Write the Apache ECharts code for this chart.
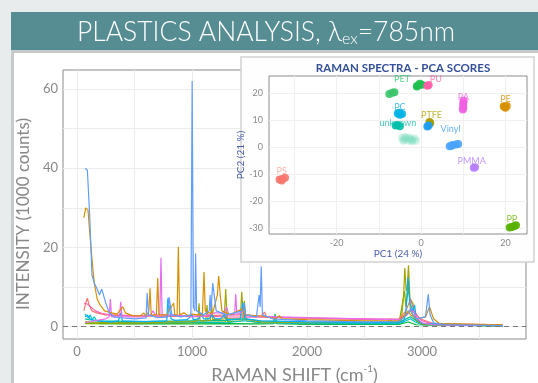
<!DOCTYPE html>
<html>
<head>
<meta charset="utf-8">
<script src="https://cdn.jsdelivr.net/npm/echarts@6.0.0/dist/echarts.min.js"></script>
<style>
  html, body { margin: 0; padding: 0; background: #e8ecec; }
  #chart { width: 538px; height: 383px; }
</style>
</head>
<body>
<div id="chart"></div>
<script>
// raman spectra, [shift cm-1, intensity in 1000 counts]
const specBlue = [[70,40],[90,39.5],[110,28],[130,13],[150,11],[175,9.5],[195,8],[215,9.5],[230,10],[250,6],[280,3.5],[320,2.5],[400,2.2],[500,2],[600,2.2],[610,8.5],[622,3],[700,2.3],[790,2.5],[800,7.5],[815,7.4],[825,3],[900,2.5],[990,3],[1001,62],[1012,5],[1025,4],[1031,18.5],[1040,4],[1100,3],[1150,4],[1157,8],[1165,4],[1180,11],[1195,11],[1210,4],[1300,3],[1440,4],[1452,6],[1465,3],[1560,2.5],[1583,8],[1592,5],[1602,15.2],[1612,3],[1700,2],[2000,1.5],[2500,1.2],[2800,1.3],[2850,2.5],[2880,3.5],[2904,4.5],[2920,3],[2950,2],[3030,2.5],[3054,8.2],[3070,3],[3100,1],[3200,0.5],[3700,0.3]];
const specGold = [[60,27.5],[75,30],[95,29.5],[110,24],[130,17],[150,11],[175,7],[200,5.5],[240,4],[300,3.5],[350,3.2],[380,4.5],[400,5],[420,3.5],[480,2.8],[550,2.7],[580,3.5],[600,2.6],[625,4],[635,9.7],[645,3],[690,3],[702,12.3],[712,3],[780,3],[840,6],[850,3],[870,3],[881,20.2],[892,3],[930,3.5],[970,2.7],[1000,3.2],[1050,3],[1090,3],[1104,13.8],[1115,4],[1150,3.5],[1180,3.5],[1220,8],[1232,12.8],[1245,8],[1260,4],[1300,3.5],[1330,3],[1440,4.5],[1460,3],[1600,2.7],[1650,2.5],[1730,2],[1760,2.8],[1780,2],[2000,1.8],[2500,1.5],[2800,1.5],[2850,3],[2880,4],[2900,3],[2950,2],[3030,2.5],[3065,5],[3080,4.5],[3100,2],[3150,0.8],[3700,0.5]];
const specMagenta = [[70,1],[150,1.5],[250,2],[280,2.5],[290,7],[300,2.5],[370,2.5],[380,6.3],[390,2.5],[450,2.5],[600,2.5],[640,3],[660,4],[680,3],[720,3],[730,17.4],[740,3],[850,3],[1000,2.5],[1100,2.7],[1200,3.5],[1280,3.5],[1300,5],[1320,3],[1370,3],[1380,8.2],[1390,3],[1450,4],[1470,2.8],[1600,2.6],[2000,2.3],[2500,2],[2800,1.8],[2870,3],[2900,4.5],[2930,3.5],[2960,2],[3000,1],[3100,0.5],[3700,0.3]];
const specSalmon = [[60,4],[75,6],[90,7.2],[105,5.5],[130,4],[170,3.5],[250,3],[400,2.8],[600,2.7],[800,2.6],[1000,2.6],[1300,3],[1450,3],[1600,2.6],[1630,3.7],[1650,2.4],[1800,2.3],[2200,2],[2600,1.8],[2800,2],[2860,4],[2900,7],[2930,4],[2980,2],[3100,0.8],[3700,0.5]];
const specPink = [[60,6],[90,5.7],[120,5],[160,4],[220,3.3],[300,3],[500,2.8],[700,2.7],[1000,2.7],[1300,2.5],[1600,2.4],[2000,2.2],[2500,2],[2800,1.8],[2880,3.5],[2920,4.5],[2950,3],[3000,1.5],[3100,0.6],[3700,0.3]];
const specCyan = [[70,2.5],[90,3],[110,2],[150,1.5],[300,1.2],[360,1.5],[380,3.5],[395,1.5],[600,1.3],[780,1.5],[790,7.2],[805,7.6],[818,2],[850,1.6],[960,1.8],[1000,3],[1010,1.8],[1060,2],[1080,3.5],[1100,2],[1150,2],[1170,3],[1200,2],[1250,2],[1280,3],[1300,1.8],[1420,2],[1440,6],[1460,2],[1600,1.5],[2000,1.2],[2500,1],[2840,1.2],[2860,4],[2878,12.5],[2895,6],[2920,4],[2935,5.5],[2950,2],[3000,0.8],[3700,0.3]];
const specTeal = [[70,3.2],[85,3],[100,2.2],[115,3],[130,1.8],[150,2.5],[170,1.5],[250,1.2],[500,1],[800,1],[1000,1.2],[1300,1],[1450,1.5],[1600,1],[2000,0.8],[2800,0.8],[2860,1.5],[2900,2],[2940,1.2],[3000,0.5],[3700,0.2]];
const specGreen = [[70,1],[200,0.8],[500,0.7],[800,0.8],[1000,0.7],[1300,0.8],[1600,0.7],[1710,0.8],[1722,3.2],[1735,0.8],[2000,0.6],[2800,0.6],[2880,1.2],[2950,0.5],[3700,0.2]];
const specOlive = [[70,1.2],[300,1],[600,1],[800,1.2],[1000,1.3],[1050,1.5],[1061,5.9],[1070,1.5],[1120,1.5],[1130,5.5],[1140,1.5],[1160,1.6],[1170,6],[1180,1.8],[1280,2],[1293,9.5],[1305,2],[1420,2],[1432,8.8],[1445,3],[1460,2],[1600,1.2],[2000,1],[2700,1.1],[2720,2],[2740,1.1],[2820,1.5],[2840,8],[2850,14.8],[2862,9],[2872,10],[2882,15.5],[2895,7],[2920,6],[2935,3],[2960,1.5],[3000,0.6],[3700,0.3]];
const specMint = [[70,2],[100,1.8],[200,1.5],[500,1.3],[1000,1.5],[1300,1.6],[1450,2],[1600,1.4],[2000,1.2],[2800,1.1],[2900,2.5],[2950,1.5],[3000,0.8],[3700,0.3]];
const specLime = [[70,0.8],[500,0.8],[1000,1],[1290,1.2],[1300,3.5],[1310,1.2],[1440,1.5],[1455,6.5],[1470,1.5],[1600,1],[2000,0.8],[2800,1],[2848,9],[2860,5],[2882,10],[2900,4],[2950,1.5],[3000,0.5],[3700,0.2]];

// pca scores, [PC1, PC2]
const pcaPS = [[-33.5,-12],[-32.8,-11.8],[-32.2,-11.3],[-33,-12.4]];
const pcaPE = [[19.8,15],[20.3,15.3],[20,14.6],[19.6,15.2]];
const pcaPTFE = [[2,9.3],[2.2,9]];
const pcaPP = [[21,-29.8],[22,-29.3],[22.5,-29],[21.5,-29.6]];
const pcaPET = [[-1,22.5],[-0.3,23.5],[0.2,23.2],[-0.8,22.8]];
const pcaOther = [[-7.5,19.7],[-6.8,20.2],[-6.3,20.4]];
const pcaPC = [[-5.5,12.5],[-5,12],[-4.5,12.3],[-5.2,12.8]];
const pcaUnknown = [[-6,8],[-5.5,8.2],[-5,7.8]];
const pcaCloud = [[-4.5,3.5],[-4,2.8],[-3.5,3.3],[-3,2.5],[-2.5,3],[-2,2.7],[-1.5,3.2],[-3.8,3.8],[-2.8,3.6],[-1.2,2.4],[-2.2,2.2],[-4.2,2.4]];
const pcaVinyl = [[1.5,7.7],[1.8,8]];
const pcaBlue = [[6.8,0.3],[7.5,0.8],[8.3,1],[8.8,1.2],[7.2,0.5]];
const pcaPMMA = [[12.5,-7.6],[12.8,-7.4]];
const pcaPA = [[10,14.5],[10,15.5],[10,16.5],[10.1,17.2],[9.9,14]];
const pcaPU = [[1.5,22.8],[1.8,23.1]];

const labelNames = ['PET', 'PU', 'PA', 'PE', 'PC', 'PTFE', 'unknown', 'Vinyl', 'PMMA', 'PS', 'PP'];
const labelX = [-4.5, 3.5, 10, 20, -5, 2.5, -5.5, 7, 12, -33, 21.5];
const labelY = [25.3, 25.3, 18.6, 17.8, 14.8, 11.8, 8.8, 6.7, -5, -8.8, -26.8];
const labelColors = ['#2ecc71', '#ff5fa8', '#f060e0', '#d89000', '#1ab0e8', '#b0a000', '#10c0b0', '#3aa0ff', '#b07cff', '#f8a09a', '#6fb000'];

const xMajor = [0, 1000, 2000, 3000];
const xGrid = [0, 500, 1000, 1500, 2000, 2500, 3000, 3500];
const yMajor = [0, 20, 40, 60];
const yGrid = [0, 10, 20, 30, 40, 50, 60];
const pcXTicks = [-20, 0, 20];
const pcYTicks = [-30, -20, -10, 0, 10, 20];
const pcXGrid = [-30, -20, -10, 0, 10, 20];

const chart = echarts.init(document.getElementById('chart'));

const lineSeries = (data, color) => ({
  type: 'line',
  data: data,
  xAxisIndex: 0,
  yAxisIndex: 0,
  showSymbol: false,
  symbol: 'none',
  z: 4,
  lineStyle: { width: 1.2, color: color },
  itemStyle: { color: color },
  silent: true
});

const dotSeries = (data, color, opacity) => ({
  type: 'scatter',
  data: data,
  xAxisIndex: 1,
  yAxisIndex: 1,
  symbolSize: 8,
  z: 24,
  itemStyle: { color: color, opacity: opacity || 0.9 },
  silent: true
});

const labelData = labelNames.map((n, i) => ({
  value: [labelX[i], labelY[i]],
  name: n,
  label: { color: labelColors[i] }
}));

const option = {
  animation: false,
  backgroundColor: '#e8ecec',
  textStyle: { fontFamily: 'Lato' },
  graphic: [
    { type: 'rect', z: 0, shape: { x: 11, y: 12, width: 527, height: 38 }, style: { fill: '#568d93' } },
    { type: 'rect', z: 0, shape: { x: 11, y: 50, width: 527, height: 3 }, style: { fill: '#c6caca' } },
    { type: 'rect', z: 0, shape: { x: 11, y: 53, width: 3, height: 330 }, style: { fill: '#c6caca' } },
    { type: 'rect', z: 0, shape: { x: 14, y: 53, width: 524, height: 330 }, style: { fill: '#ffffff' } },
    { type: 'rect', z: 20, shape: { x: 241, y: 57, width: 293, height: 205 }, style: { fill: '#fefefe', stroke: '#d2d2d2', lineWidth: 1.5 } }
  ],
  title: [
    {
      text: '{a|PLASTICS ANALYSIS, λ}{b|ex}{a|=785nm}',
      left: 72,
      top: 12,
      z: 30,
      textStyle: {
        rich: {
          a: { fontFamily: 'Lato', fontWeight: 300, fontSize: 26.5, color: '#ffffff', lineHeight: 30 },
          b: { fontFamily: 'Lato', fontWeight: 300, fontSize: 16, color: '#ffffff', lineHeight: 18, verticalAlign: 'bottom' }
        }
      }
    },
    {
      text: 'RAMAN SPECTRA - PCA SCORES',
      left: 398,
      textAlign: 'center',
      top: 57,
      z: 30,
      textStyle: { fontFamily: 'Lato', fontWeight: 'bold', fontSize: 11.5, color: '#34509a' }
    }
  ],
  grid: [
    { left: 63, top: 70, width: 463, height: 269, outerBoundsMode: 'none', containLabel: false, show: true, borderColor: '#8a8a8a', borderWidth: 1, backgroundColor: 'transparent', z: 2 },
    { left: 269, top: 76, width: 258, height: 158, outerBoundsMode: 'none', containLabel: false, show: true, borderColor: '#8c8c8c', borderWidth: 1, backgroundColor: '#ffffff', z: 21 }
  ],
  xAxis: [
    {
      type: 'value', gridIndex: 0, min: -122, max: 3904, z: 3,
      axisLine: { show: false },
      axisTick: { show: false, customValues: xGrid },
      axisLabel: { customValues: xMajor, color: '#888888', fontSize: 13, margin: 6, formatter: v => String(v) },
      splitLine: { show: true, lineStyle: { color: '#ebebeb', width: 1 } },
      name: '{a|RAMAN SHIFT (cm}{s|-1}{a|)}',
      nameLocation: 'middle',
      nameGap: 25,
      nameTextStyle: {
        rich: {
          a: { fontFamily: 'Lato', fontSize: 18, color: '#888888', lineHeight: 22 },
          s: { fontFamily: 'Lato', fontSize: 10, color: '#888888', lineHeight: 12, verticalAlign: 'top' }
        }
      }
    },
    {
      type: 'value', gridIndex: 1, min: -36, max: 25.1, z: 22,
      axisLine: { show: false },
      axisTick: { show: false, customValues: pcXGrid },
      axisLabel: { customValues: pcXTicks, color: '#8a8a8a', fontSize: 9, margin: 5 },
      splitLine: { show: true, lineStyle: { color: '#f0f0f0', width: 1 } },
      name: 'PC1 (24 %)',
      nameLocation: 'middle',
      nameGap: 14,
      nameTextStyle: { fontFamily: 'Lato', fontSize: 10, color: '#4a5ca8' }
    }
  ],
  yAxis: [
    {
      type: 'value', gridIndex: 0, min: -3.1, max: 64.8, z: 3,
      axisLine: { show: false },
      axisTick: { show: false, customValues: yGrid },
      axisLabel: { customValues: yMajor, color: '#888888', fontSize: 13, margin: 5 },
      splitLine: { show: true, lineStyle: { color: '#ebebeb', width: 1 } },
      name: 'INTENSITY (1000 counts)',
      nameLocation: 'middle',
      nameGap: 18,
      nameTextStyle: { fontFamily: 'Lato', fontSize: 17, color: '#888888', padding: [0, 19, 0, 0] }
    },
    {
      type: 'value', gridIndex: 1, min: -32.2, max: 26.4, z: 22,
      axisLine: { show: false },
      axisTick: { show: false, customValues: pcYTicks },
      axisLabel: { customValues: pcYTicks, color: '#8a8a8a', fontSize: 9, margin: 6 },
      splitLine: { show: true, lineStyle: { color: '#f0f0f0', width: 1 } },
      name: 'PC2 (21 %)',
      nameLocation: 'middle',
      nameGap: 15,
      nameTextStyle: { fontFamily: 'Lato', fontSize: 10, color: '#4a5ca8' }
    }
  ],
  series: [
    Object.assign(lineSeries(specGreen, '#00ba38'), {
      markLine: {
        silent: true,
        symbol: 'none',
        label: { show: false },
        lineStyle: { color: '#777777', type: [5, 4], width: 1.2 },
        data: [{ yAxis: 0 }]
      }
    }),
    lineSeries(specLime, '#7cae00'),
    lineSeries(specMint, '#00c08b'),
    lineSeries(specTeal, '#00bfc4'),
    lineSeries(specOlive, '#a3a500'),
    lineSeries(specSalmon, '#f8766d'),
    lineSeries(specPink, '#ff64b0'),
    lineSeries(specCyan, '#00b0f6'),
    lineSeries(specMagenta, '#e76bf3'),
    lineSeries(specGold, '#d89000'),
    lineSeries(specBlue, '#619cff'),

    dotSeries(pcaCloud, '#7ddcc0', 0.35),
    dotSeries(pcaPS, '#f8766d'),
    dotSeries(pcaPE, '#d89000'),
    dotSeries(pcaPTFE, '#a89a00'),
    dotSeries(pcaPP, '#58b000'),
    dotSeries(pcaPET, '#1fbf50'),
    dotSeries(pcaOther, '#3cc46a'),
    dotSeries(pcaPC, '#00b4e8'),
    dotSeries(pcaUnknown, '#00c0a8'),
    dotSeries(pcaVinyl, '#1e9cf0'),
    dotSeries(pcaBlue, '#4aa4ff'),
    dotSeries(pcaPMMA, '#b880ff'),
    dotSeries(pcaPA, '#f060e0'),
    dotSeries(pcaPU, '#ff5fa8'),
    {
      type: 'scatter',
      xAxisIndex: 1,
      yAxisIndex: 1,
      symbolSize: 0,
      z: 26,
      silent: true,
      data: labelData,
      label: { show: true, position: 'inside', formatter: p => p.name, fontFamily: 'Lato', fontSize: 9 }
    }
  ]
};

chart.setOption(option);
</script>
</body>
</html>
